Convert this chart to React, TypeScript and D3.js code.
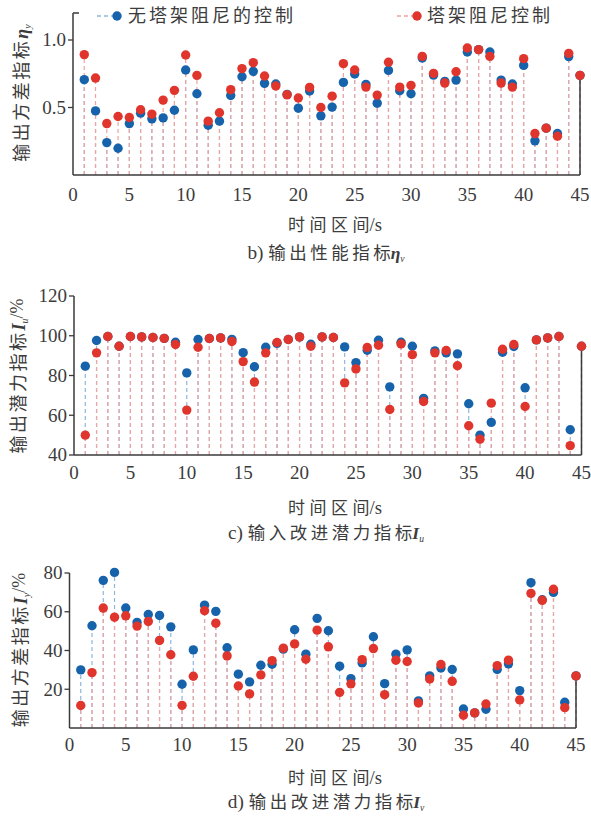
import React from "react";
import * as d3 from "d3";

const X_TICKS = [0, 5, 10, 15, 20, 25, 30, 35, 40, 45];

// Panel b) output performance index eta_y
const ETA_BLUE = [0.706, 0.475, 0.24, 0.198, 0.381, 0.458, 0.416, 0.423, 0.48, 0.778, 0.602, 0.369, 0.399, 0.589, 0.728, 0.768, 0.679, 0.674, 0.597, 0.495, 0.622, 0.438, 0.503, 0.686, 0.748, 0.671, 0.532, 0.775, 0.624, 0.602, 0.867, 0.74, 0.693, 0.703, 0.911, 0.929, 0.911, 0.703, 0.674, 0.812, 0.253, 0.347, 0.307, 0.877, 0.738];
const ETA_RED = [0.892, 0.718, 0.381, 0.433, 0.426, 0.483, 0.451, 0.555, 0.627, 0.889, 0.738, 0.399, 0.461, 0.632, 0.788, 0.832, 0.733, 0.659, 0.594, 0.57, 0.649, 0.5, 0.584, 0.825, 0.778, 0.651, 0.592, 0.835, 0.651, 0.664, 0.879, 0.753, 0.681, 0.765, 0.941, 0.929, 0.879, 0.681, 0.651, 0.862, 0.307, 0.347, 0.287, 0.901, 0.738];
const ETA_TICKS = [0.5, 1.0];

// Panel c) input improvement potential I_u (%)
const IU_BLUE = [84.7, 97.6, 99.6, 94.7, 99.6, 99.4, 99.1, 98.7, 96.7, 81.3, 98.1, 98.6, 98.9, 98.2, 91.5, 84.4, 94.2, 96.2, 98.1, 99.4, 95.7, 99.4, 99.1, 94.4, 86.5, 92.7, 97.7, 74.3, 96.7, 94.7, 68.5, 92.4, 91.4, 90.9, 65.8, 50.0, 56.4, 91.7, 94.6, 73.8, 97.9, 98.9, 99.6, 52.7, 94.7];
const IU_RED = [50.0, 91.4, 99.6, 94.7, 99.6, 99.4, 99.1, 98.7, 95.6, 62.6, 94.2, 98.6, 98.9, 97.1, 87.0, 76.7, 91.4, 96.6, 98.1, 99.4, 94.7, 99.4, 99.1, 76.3, 83.3, 94.1, 95.2, 62.9, 95.9, 90.5, 66.9, 91.4, 92.6, 84.9, 54.7, 47.9, 66.1, 93.2, 95.6, 64.4, 97.9, 98.9, 99.6, 44.7, 94.7];
const IU_TICKS = [40, 60, 80, 100, 120];

// Panel d) output improvement potential I_y (%)
const IY_BLUE = [30.0, 52.8, 76.2, 80.3, 61.9, 54.5, 58.6, 58.1, 52.2, 22.6, 40.3, 63.4, 60.2, 41.4, 27.8, 23.8, 32.4, 32.9, 40.7, 50.7, 38.1, 56.6, 50.2, 31.9, 25.5, 33.6, 47.1, 22.9, 38.1, 40.3, 14.0, 26.9, 31.0, 30.2, 9.8, 7.8, 9.7, 30.2, 33.1, 19.3, 75.0, 66.2, 70.0, 13.3, 26.9];
const IY_RED = [11.6, 28.6, 61.9, 57.2, 57.9, 52.6, 55.0, 45.2, 37.8, 11.7, 26.7, 60.5, 54.1, 37.2, 21.7, 17.6, 27.4, 34.8, 41.2, 43.4, 35.5, 50.5, 41.9, 18.4, 22.8, 35.3, 41.0, 17.2, 35.0, 34.3, 12.9, 25.3, 32.8, 24.1, 6.6, 7.8, 12.4, 32.2, 35.0, 14.5, 69.5, 65.9, 71.6, 10.5, 26.9];
const IY_TICKS = [20, 40, 60, 80];

const LEGEND_LABELS = ["无塔架阻尼的控制", "塔架阻尼控制"];

const BLUE = "#1763ab";
const RED = "#e0352c";
const BLUE_STEM = "#8fb6de";
const RED_STEM = "#f0a3a0";
const AXIS = "#3a3a3a";
const TEXT = "#3c3c3c";
const SERIF = "'Liberation Serif', 'DejaVu Serif', serif";
const CJK = "'Noto Sans CJK SC', 'Noto Sans', sans-serif";

type PanelProps = {
  blue: number[];
  red: number[];
  yDomain: [number, number];
  yTicks: number[];
  tickFmt: (v: number) => string;
  left: number;
  right: number;
  top: number;
  bottom: number;
  topTick?: boolean;
  yLabel: React.ReactNode;
  yLabelX: number;
  yLabelY: number;
  xTitleY: number;
  caption: React.ReactNode;
  captionY: number;
  xTickY: number;
};

const cj = (s: string, ls: number) => <tspan letterSpacing={ls}>{s}</tspan>;
const lat = (s: string) => <tspan fontFamily={SERIF} fontSize="1.1em" letterSpacing={0}>{s}</tspan>;

function Panel(p: PanelProps) {
  const x = d3.scaleLinear().domain([0, 45]).range([p.left, p.right]);
  const y = d3.scaleLinear().domain(p.yDomain).range([p.bottom, p.top]);
  const idx = d3.range(1, 46);
  const base = y(p.yDomain[0]);
  const r = 4.7;
  return (
    <g>
      {idx.map((i) => (
        <line key={"bs" + i} x1={x(i)} x2={x(i)} y1={base} y2={y(p.blue[i - 1])}
          stroke={BLUE_STEM} strokeWidth={1.2} strokeDasharray="4,3" />
      ))}
      {idx.map((i) => (
        <line key={"rs" + i} x1={x(i)} x2={x(i)} y1={base} y2={y(p.red[i - 1])}
          stroke={RED_STEM} strokeWidth={1.2} strokeDasharray="4,3" />
      ))}
      <line x1={x(45)} x2={x(45)} y1={base} y2={y(p.red[44])} stroke={AXIS} strokeWidth={1.5} />
      <line x1={p.left} x2={p.left} y1={p.top} y2={p.bottom} stroke={AXIS} strokeWidth={1.5} />
      <line x1={p.left} x2={p.right} y1={p.bottom} y2={p.bottom} stroke={AXIS} strokeWidth={1.5} />
      {p.topTick && (
        <line x1={p.left} x2={p.left + 6} y1={p.top} y2={p.top} stroke={AXIS} strokeWidth={1.5} />
      )}
      {p.yTicks.map((t) => (
        <g key={"yt" + t}>
          <line x1={p.left - 5} x2={p.left} y1={y(t)} y2={y(t)} stroke={AXIS} strokeWidth={1.3} />
          <text x={p.left - 7} y={y(t)} dy="0.34em" textAnchor="end" fontFamily={SERIF} fontSize={19} fill={TEXT}>
            {p.tickFmt(t)}
          </text>
        </g>
      ))}
      {X_TICKS.map((t) => (
        <text key={"xt" + t} x={x(t)} y={p.xTickY} dy="0.34em" textAnchor="middle" fontFamily={SERIF} fontSize={19} fill={TEXT}>
          {t}
        </text>
      ))}
      {idx.map((i) => (
        <circle key={"bd" + i} cx={x(i)} cy={y(p.blue[i - 1])} r={r} fill={BLUE} />
      ))}
      {idx.map((i) => (
        <circle key={"rd" + i} cx={x(i)} cy={y(p.red[i - 1])} r={r} fill={RED} />
      ))}
      <text transform={`translate(${p.yLabelX},${p.yLabelY}) rotate(-90)`} textAnchor="middle" dy="0.35em"
        fontFamily={CJK} fontSize={18} fill={TEXT}>
        {p.yLabel}
      </text>
      <text x={335} y={p.xTitleY} dy="0.35em" textAnchor="middle" fontFamily={CJK} fontSize={17} fill={TEXT}>
        {cj("时间区", 4.5)}{cj("间", 0)}{lat("/s")}
      </text>
      <text x={326} y={p.captionY} dy="0.35em" textAnchor="middle" fontFamily={CJK} fontSize={17.5} fill={TEXT}>
        {p.caption}
      </text>
    </g>
  );
}

const sym = (main: string, sub: string, extra?: string) => (
  <>
    <tspan fontFamily={SERIF} fontStyle="italic" fontWeight="bold" letterSpacing={0}>{main}</tspan>
    <tspan fontFamily={SERIF} fontStyle="italic" fontSize="0.55em" dy="0.3em" letterSpacing={0}>{sub}</tspan>
    {extra && <tspan fontFamily={SERIF} dy="-0.3em" letterSpacing={0}>{extra}</tspan>}
  </>
);

export default function App() {
  return (
    <svg width={591} height={827} style={{ position: "absolute", left: 0, top: 0, background: "#fff" }}>
      <Panel blue={ETA_BLUE} red={ETA_RED} yDomain={[0, 1.2]} yTicks={ETA_TICKS} tickFmt={(v) => v.toFixed(1)}
        left={73} right={580} top={13} bottom={175} topTick
        yLabel={<>{cj("输出方差指标", 2.5)}{sym("η", "y")}</>} yLabelX={22} yLabelY={93}
        xTickY={195} xTitleY={225} captionY={253}
        caption={<>{lat("b) ")}{cj("输出性能指", 3.5)}{cj("标", 0)}{sym("η", "v")}</>} />
      <Panel blue={IU_BLUE} red={IU_RED} yDomain={[40, 120]} yTicks={IU_TICKS} tickFmt={(v) => String(v)}
        left={74} right={581.5} top={296} bottom={455}
        yLabel={<>{cj("输出潜力指标", 2.5)}{sym("I", "u", "/%")}</>} yLabelX={19} yLabelY={376}
        xTickY={473} xTitleY={508} captionY={533}
        caption={<>{lat("c) ")}{cj("输入改进潜力指", 3.5)}{cj("标", 0)}{sym("I", "u")}</>} />
      <Panel blue={IY_BLUE} red={IY_RED} yDomain={[0, 80]} yTicks={IY_TICKS} tickFmt={(v) => String(v)}
        left={69.5} right={576} top={573} bottom={728}
        yLabel={<>{cj("输出方差指标", 2.5)}{sym("I", "y", "/%")}</>} yLabelX={21} yLabelY={650}
        xTickY={745} xTitleY={778} captionY={802}
        caption={<>{lat("d) ")}{cj("输出改进潜力指", 3.5)}{cj("标", 0)}{sym("I", "v")}</>} />
      <g>
        <line x1={97} x2={113} y1={16} y2={16} stroke={BLUE_STEM} strokeWidth={1.4} strokeDasharray="4,3" />
        <circle cx={117} cy={16} r={4.7} fill={BLUE} />
        <text x={128} y={16} dy="0.36em" fontFamily={CJK} fontSize={18} letterSpacing={3} fill={TEXT}>{LEGEND_LABELS[0]}</text>
        <line x1={397} x2={413} y1={16} y2={16} stroke={RED_STEM} strokeWidth={1.4} strokeDasharray="4,3" />
        <circle cx={417} cy={16} r={4.7} fill={RED} />
        <text x={427} y={16} dy="0.36em" fontFamily={CJK} fontSize={18} letterSpacing={3} fill={TEXT}>{LEGEND_LABELS[1]}</text>
      </g>
    </svg>
  );
}
